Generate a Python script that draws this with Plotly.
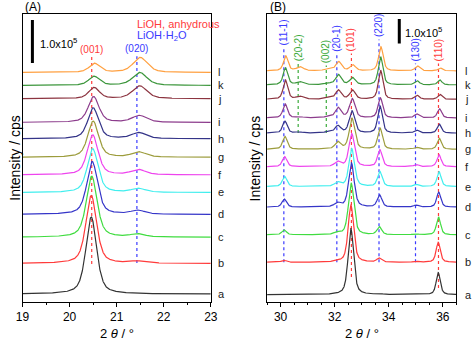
import numpy as np
import plotly.graph_objects as go

FONT = "Arial, Liberation Sans, sans-serif"

samples = list("abcdefghijkl")
colors = ["#333333", "#ff3b3b", "#40dc40", "#3535c8", "#40eeee", "#ee44ee",
          "#9c9c3c", "#343488", "#8c3c8c", "#8c3440", "#3c963c", "#ffa040"]
shift = [0, 0, 0.01, 0.02, 0.03, 0.03, 0.04, 0.04, 0.05, 0.06, 0.06, 0.07]

# ---------------- Panel A (intensities in kcps) ----------------
offA = [0, 71, 132, 185, 236, 277, 318, 361, 399, 454, 485, 515]
peaksA = ["(001)", "(020)"]
posA = [20.46, 21.43]
fwhmA = [0.27, 0.36]
hA = [
    [179, 158, 142, 123, 102, 93, 84, 72, 60, 26, 21, 21],   # (001)
    [0, 5, 7, 9, 9, 12, 12, 14, 16, 30, 30, 35],             # (020)
]
lineA_pos = [20.47, 21.43]
lineA_col = ["#ff3b3b", "#3a3aff"]
lineA_bot = [70, 72]
lineA_top = [551, 553]

# ---------------- Panel B (intensities in kcps) ----------------
offB = [0, 132, 244, 357, 441, 522, 593, 659, 721, 797, 856, 913]
peaksB = ["(11-1)", "(20-2)", "(002)", "(20-1)", "(101)", "(220)", "(130)", "(110)"]
posB = [30.12, 30.65, 31.69, 32.08, 32.60, 33.64, 34.99, 35.83]
fwhmB = [0.20, 0.30, 0.30, 0.25, 0.24, 0.20, 0.20, 0.18]
hB = [
    [0, 8, 20, 33, 41, 41, 53, 49, 57, 78, 69, 61],          # (11-1)
    [0, 0, 0, 0, 0, 0, 0, 4, 4, 12, 12, 16],                  # (20-2)
    [0, 0, 0, 0, 0, 0, 0, 4, 4, 6, 6, 8],                     # (002)
    [0, 4, 8, 16, 16, 20, 29, 29, 41, 37, 41, 37],            # (20-1)
    [269, 233, 212, 180, 155, 135, 126, 90, 78, 37, 29, 24],  # (101)
    [4, 16, 33, 49, 61, 69, 86, 110, 82, 118, 114, 98],       # (220)
    [0, 4, 4, 8, 8, 8, 8, 12, 16, 16, 16, 20],                # (130)
    [90, 82, 73, 61, 61, 49, 45, 37, 37, 20, 20, 12],         # (110)
]
lineB_pos = [30.12, 30.65, 31.69, 32.08, 32.62, 33.64, 34.99, 35.84]
lineB_col = ["#3a3aff", "#3aaa3a", "#3aaa3a", "#3a3aff", "#ff3b3b", "#3a3aff", "#3a3aff", "#ff3b3b"]
lineB_bot = [132, 659, 659, 132, 72, 132, 132, 27]
lineB_top = [1008, 943, 935, 984, 984, 1041, 943, 943]

xrangeA = [19, 23]
xrangeB = [29.5, 36.5]
yrangeA = [-18.6, 651]
yrangeB = [-30, 1145]


def pv(x, c, w, eta=0.55):
    g = np.exp(-4 * np.log(2) * ((x - c) / w) ** 2)
    l = 1.0 / (1 + 4 * ((x - c) / w) ** 2)
    return eta * l + (1 - eta) * g


fig = go.Figure()

xa = np.linspace(xrangeA[0], xrangeA[1], 1200)
xb = np.linspace(xrangeB[0], xrangeB[1], 1600)

# reference lines (drawn first)
for p, col, b, t in zip(lineA_pos, lineA_col, lineA_bot, lineA_top):
    fig.add_trace(go.Scatter(x=[p, p], y=[b, t], mode="lines", xaxis="x", yaxis="y",
                             line=dict(color=col, width=1.2, dash="dot"), showlegend=False))
for p, col, b, t in zip(lineB_pos, lineB_col, lineB_bot, lineB_top):
    fig.add_trace(go.Scatter(x=[p, p], y=[b, t], mode="lines", xaxis="x2", yaxis="y2",
                             line=dict(color=col, width=1.2, dash="dot"), showlegend=False))

for i, s in enumerate(samples):
    ya = offA[i] + sum(hA[k][i] * pv(xa, posA[k] + shift[i], fwhmA[k]) for k in range(len(posA)))
    fig.add_trace(go.Scatter(x=xa, y=ya, mode="lines", xaxis="x", yaxis="y",
                             line=dict(color=colors[i], width=1.2), showlegend=False))
    yb = offB[i] + sum(hB[k][i] * pv(xb, posB[k] + shift[i], fwhmB[k]) for k in range(len(posB)))
    fig.add_trace(go.Scatter(x=xb, y=yb, mode="lines", xaxis="x2", yaxis="y2",
                             line=dict(color=colors[i], width=1.2), showlegend=False))

# scale bars
fig.add_trace(go.Scatter(x=[19.21, 19.21], y=[537, 637], mode="lines", xaxis="x", yaxis="y",
                         line=dict(color="black", width=3), showlegend=False))
fig.add_trace(go.Scatter(x=[34.39, 34.39], y=[1025, 1125], mode="lines", xaxis="x2", yaxis="y2",
                         line=dict(color="black", width=3), showlegend=False))

ann = []
# sample letters
for i, s in enumerate(samples):
    ann.append(dict(text=s, x=1.025, xref="x domain", y=offA[i], yref="y", xanchor="left",
                    yanchor="middle", showarrow=False, font=dict(size=11, color="#222", family=FONT)))
    ann.append(dict(text=s, x=1.035, xref="x2 domain", y=offB[i], yref="y2", xanchor="left",
                    yanchor="middle", showarrow=False, font=dict(size=11, color="#222", family=FONT)))

# peak labels A
for name, p, col, t in zip(peaksA, lineA_pos, lineA_col, lineA_top):
    ann.append(dict(text=name, x=p, xref="x", y=t, yref="y", xanchor="center", yanchor="bottom",
                    showarrow=False, font=dict(size=10, color=col, family=FONT)))
# peak labels B (rotated)
for name, p, col, t in zip(peaksB, lineB_pos, lineB_col, lineB_top):
    ann.append(dict(text=name, x=p, xref="x2", y=t, yref="y2", xanchor="center", yanchor="bottom",
                    textangle=-90, showarrow=False, font=dict(size=10, color=col, family=FONT)))

ann += [
    dict(text="LiOH, anhydrous", x=21.38, xref="x", y=627, yref="y", xanchor="left", yanchor="middle",
         showarrow=False, font=dict(size=11, color="#ff3b3b", family=FONT)),
    dict(text="LiOH·H<sub>2</sub>O", x=21.38, xref="x", y=601, yref="y", xanchor="left", yanchor="middle",
         showarrow=False, font=dict(size=11, color="#3a3aff", family=FONT)),
    dict(text="1.0x10<sup>5</sup>", x=19.33, xref="x", y=584, yref="y", xanchor="left", yanchor="middle",
         showarrow=False, font=dict(size=11, color="black", family=FONT)),
    dict(text="1.0x10<sup>5</sup>", x=34.53, xref="x2", y=1072, yref="y2", xanchor="left", yanchor="middle",
         showarrow=False, font=dict(size=11, color="black", family=FONT)),
    dict(text="(A)", x=17 / 474, xref="paper", y=1 - 7 / 340, yref="paper", xanchor="left", yanchor="middle",
         showarrow=False, font=dict(size=12, color="black", family=FONT)),
    dict(text="(B)", x=269 / 474, xref="paper", y=1 - 7 / 340, yref="paper", xanchor="left", yanchor="middle",
         showarrow=False, font=dict(size=12, color="black", family=FONT)),
    dict(text="Intensity / cps", x=8 / 474, xref="paper", y=1 - 158 / 340, yref="paper", textangle=-90,
         xanchor="center", yanchor="middle", showarrow=False, font=dict(size=14, color="black", family=FONT)),
    dict(text="Intensity / cps", x=256 / 474, xref="paper", y=1 - 158 / 340, yref="paper", textangle=-90,
         xanchor="center", yanchor="middle", showarrow=False, font=dict(size=14, color="black", family=FONT)),
    dict(text="2 <i>θ</i> / °", x=113 / 474, xref="paper", y=1 - 333 / 340, yref="paper",
         xanchor="center", yanchor="middle", showarrow=False, font=dict(size=13, color="black", family=FONT)),
    dict(text="2 <i>θ</i> / °", x=366 / 474, xref="paper", y=1 - 333 / 340, yref="paper",
         xanchor="center", yanchor="middle", showarrow=False, font=dict(size=13, color="black", family=FONT)),
]

ydom = [38 / 340, 326 / 340]
axis_common = dict(showline=True, linecolor="black", linewidth=1, mirror=True, showgrid=False,
                   zeroline=False, ticks="outside", ticklen=4, tickcolor="black",
                   tickfont=dict(size=12, color="black", family=FONT))
yaxis_common = dict(showline=True, linecolor="black", linewidth=1, mirror=True, showgrid=False,
                    zeroline=False, showticklabels=False, ticks="")

fig.update_layout(
    width=474, height=340, margin=dict(l=0, r=0, t=0, b=0),
    paper_bgcolor="white", plot_bgcolor="white",
    xaxis=dict(domain=[16 / 474, 210 / 474], range=xrangeA, dtick=1, tick0=19,
               minor=dict(dtick=0.5, ticks="outside", ticklen=2, tickcolor="black"), **axis_common),
    yaxis=dict(domain=ydom, range=yrangeA, **yaxis_common),
    xaxis2=dict(domain=[268 / 474, 463 / 474], range=xrangeB, dtick=2, tick0=30, anchor="y2",
                minor=dict(dtick=0.5, ticks="outside", ticklen=2, tickcolor="black"), **axis_common),
    yaxis2=dict(domain=ydom, range=yrangeB, anchor="x2", **yaxis_common),
    annotations=ann,
)

fig.write_html("out.html")
